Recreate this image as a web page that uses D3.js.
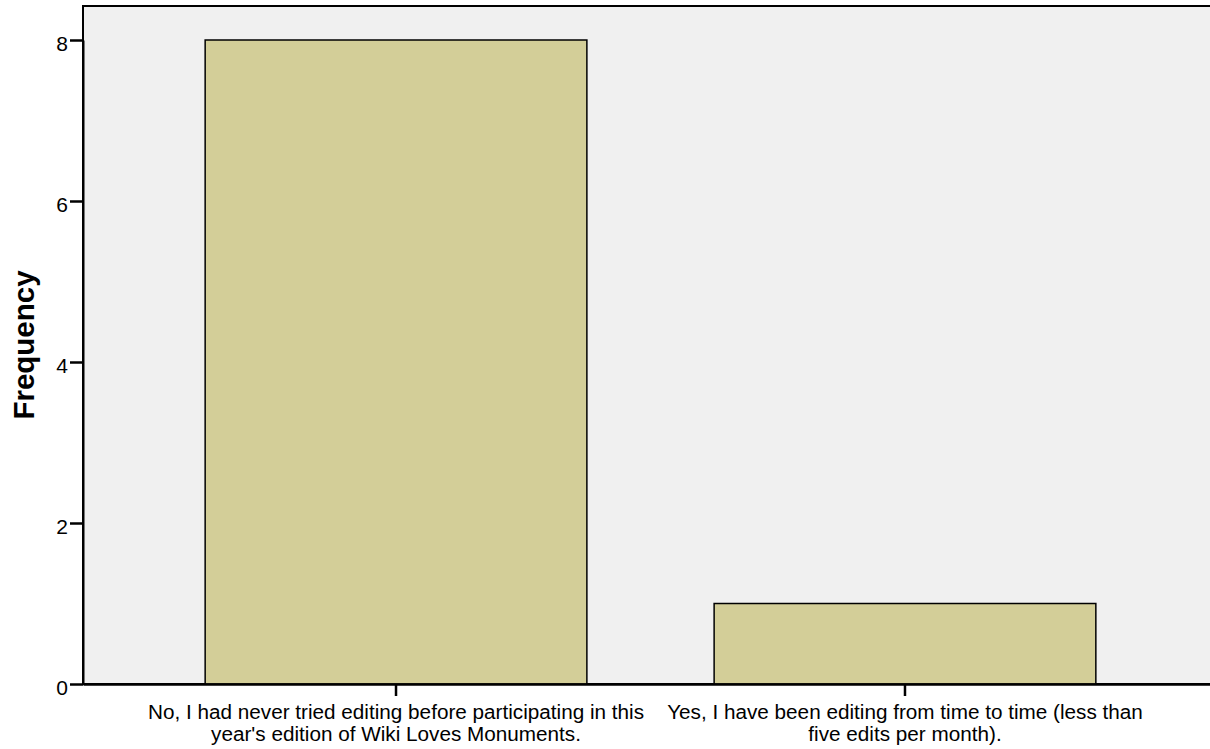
<!DOCTYPE html>
<html>
<head>
<meta charset="utf-8">
<script src="https://cdn.jsdelivr.net/npm/d3@7"></script>
<style>
html,body{margin:0;padding:0;background:#fff;}
svg{display:block;font-family:"Liberation Sans",Arial,sans-serif;}
</style>
</head>
<body>
<svg id="chart" width="1210" height="749"></svg>
<script>
const categories = [
  ["No, I had never tried editing before participating in this", "year's edition of Wiki Loves Monuments."],
  ["Yes, I have been editing from time to time (less than", "five edits per month)."]
];
const frequencies = [8, 1];
const yTicks = [0, 2, 4, 6, 8];
const yLabel = "Frequency";

const svg = d3.select("#chart");
const mLeft = 83, mRight = 1218, mTop = 6, mBottom = 684;

const x = d3.scaleBand().domain(d3.range(categories.length))
  .range([mLeft, mRight]).paddingInner(0.25).paddingOuter(0.24);
const y = d3.scaleLinear().domain([0, 8]).range([mBottom, 40]);

// background
svg.append("rect").attr("x", mLeft).attr("y", mTop)
  .attr("width", mRight - mLeft).attr("height", mBottom - mTop)
  .attr("fill", "#f0f0f0").attr("stroke", "#000").attr("stroke-width", 2);

// bars
svg.selectAll("rect.bar").data(frequencies).join("rect")
  .attr("class", "bar")
  .attr("x", (d, i) => x(i))
  .attr("y", d => y(d))
  .attr("width", x.bandwidth())
  .attr("height", d => y(0) - y(d))
  .attr("fill", "#d3ce98")
  .attr("stroke", "#000")
  .attr("stroke-width", 1.5);

// y axis
const yAxis = d3.axisLeft(y).tickValues(yTicks).tickSize(13).tickSizeOuter(0).tickPadding(2).tickFormat(d3.format("d"));
const gy = svg.append("g").attr("transform", `translate(${mLeft},0)`).call(yAxis);
gy.select(".domain").attr("stroke", "#000").attr("stroke-width", 2);
gy.selectAll(".tick line").attr("stroke", "#000").attr("stroke-width", 2.5);
gy.selectAll(".tick text").attr("font-size", 21).attr("fill", "#000")
  .attr("font-family", "Liberation Sans, Arial, sans-serif").attr("dy", "0.48em");

// x axis
const xAxis = d3.axisBottom(x).tickSize(12).tickSizeOuter(0).tickFormat("");
const gx = svg.append("g").attr("transform", `translate(0,${mBottom})`).call(xAxis);
gx.select(".domain").attr("stroke", "#000").attr("stroke-width", 2.5);
gx.selectAll(".tick line").attr("stroke", "#000").attr("stroke-width", 2.5);

// x labels
svg.selectAll("text.xlab").data(categories).join("text")
  .attr("class", "xlab")
  .attr("text-anchor", "middle")
  .attr("font-size", 19.5)
  .attr("fill", "#000")
  .attr("transform", (d, i) => `translate(${x(i) + x.bandwidth() / 2},719) scale(1.062,1)`)
  .selectAll("tspan").data(d => d).join("tspan")
  .attr("x", 0).attr("dy", (d, j) => j === 0 ? 0 : 22)
  .text(d => d);

// y label
svg.append("text")
  .attr("transform", `translate(34,${(mTop + mBottom) / 2}) rotate(-90)`)
  .attr("text-anchor", "middle")
  .attr("font-size", 29.5).attr("font-weight", "bold").attr("fill", "#000")
  .text(yLabel);
</script>
</body>
</html>
